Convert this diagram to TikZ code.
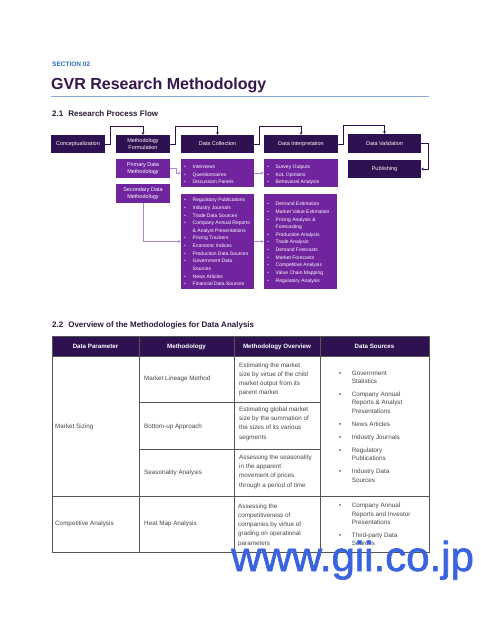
\documentclass[tikz,border=0pt]{standalone}
\usepackage{fontspec}
\setmainfont{Liberation Sans}
\newfontfamily\wmfont{Liberation Sans}[FakeBold=1.5]
\usetikzlibrary{arrows.meta}
\definecolor{gvrDark}{RGB}{46,17,80}
\definecolor{gvrPurple}{RGB}{112,36,158}
\definecolor{gvrLav}{RGB}{178,136,208}
\definecolor{gvrBlue}{RGB}{44,110,186}
\definecolor{gvrTitle}{RGB}{56,22,76}
\definecolor{gvrHead}{RGB}{42,26,56}
\definecolor{gvrRule}{RGB}{132,170,218}
\definecolor{gvrGrid}{RGB}{85,85,85}
\definecolor{gvrText}{RGB}{70,70,70}
\definecolor{gvrWeb}{RGB}{58,100,222}
\newcommand{\bl}{\makebox[8.5pt][l]{\textcolor{white!75!gvrPurple}{\textbullet}}}
\newcommand{\bk}{\hspace*{8.5pt}}
\newcommand{\boxlist}[1]{\begin{tabular}[t]{@{}l@{}}#1\end{tabular}}
\newcommand{\srclist}[1]{\begin{tabular}[t]{@{}l@{\hspace{10.5pt}}l@{}}#1\end{tabular}}

\begin{document}
\begin{tikzpicture}[x=1pt,y=-1pt,
  flowbox/.style={fill=gvrDark,text=white,font=\fontsize{5.5}{7.8}\selectfont,align=center,inner sep=0pt,minimum height=18pt},
  methbox/.style={flowbox,fill=gvrPurple,minimum height=19pt},
  listbox/.style={fill=gvrPurple,inner sep=0pt},
  listtext/.style={anchor=base west,inner sep=0pt,text=white,font=\fontsize{5}{7.65}\selectfont},
  flowline/.style={gvrDark,line width=0.9pt,-{Stealth[length=2.6pt,width=2.6pt]}},
  subline/.style={gvrLav,line width=0.9pt,-{Stealth[length=2.6pt,width=2.6pt]}},
  heading/.style={anchor=base west,inner sep=0pt,text=gvrHead,font=\fontsize{8}{10}\selectfont\bfseries},
  head/.style={anchor=base,inner sep=0pt,text=white,font=\fontsize{6.2}{7}\selectfont\bfseries},
  cell/.style={anchor=base west,inner sep=0pt,text=gvrText,font=\fontsize{6.3}{9.3}\selectfont},
  src/.style={cell,font=\fontsize{6.3}{8.4}\selectfont}]
\useasboundingbox (0,0) rectangle (480,621);
\fill[white] (0,0) rectangle (480,621);

\node[anchor=base west,inner sep=0pt,text=gvrBlue,font=\fontsize{6.5}{8}\selectfont\bfseries] (sec) at (52,66.7) {SECTION 02};
\node[anchor=base west,inner sep=0pt,text=gvrTitle,font=\fontsize{16}{19}\selectfont\bfseries] (title) at (51,89.5) {GVR Research Methodology};
\draw[gvrRule,line width=1.3pt] (51,96.5) -- (429,96.5);
\node[heading] (flowhead) at (52,116) {2.1\hspace{5pt}Research Process Flow};

% process flow
\node[flowbox,minimum width=54pt] (concept) at (78,144) {Conceptualization};
\node[flowbox,minimum width=54pt] (formul) at (143,144) {Methodology\\Formulation};
\node[flowbox,minimum width=73pt] (collect) at (217.5,144) {Data Collection};
\node[flowbox,minimum width=74pt] (interp) at (301,144) {Data Interpretation};
\node[flowbox,minimum width=73pt,minimum height=19pt] (valid) at (384.5,143.5) {Data Validation};
\node[flowbox,minimum width=73pt] (publish) at (384.5,169) {Publishing};
\node[methbox,minimum width=54pt] (primary) at (143,168.5) {Primary Data\\Methodology};
\node[methbox,minimum width=54pt] (secondary) at (143,193.5) {Secondary Data\\Methodology};
\node[listbox,minimum width=73pt,minimum height=28pt] (prilist) at (217.5,173) {};
\node[listbox,minimum width=74pt,minimum height=28pt] (surlist) at (301,173) {};
\node[listbox,minimum width=73pt,minimum height=95pt] (seclist) at (217.5,241.5) {};
\node[listbox,minimum width=73pt,minimum height=95pt] (anlist) at (300.5,241.5) {};

\node[listtext] (prilist-t) at (184,168.5) {\boxlist{\bl Interviews\\\bl Questionnaires\\\bl Discussion Panels}};
\node[listtext] (surlist-t) at (267,168.5) {\boxlist{\bl Survey Outputs\\\bl KoL Opinions\\\bl Behavioral Analysis}};
\node[listtext] (seclist-t) at (184,201.7) {\boxlist{\bl Regulatory Publications\\\bl Industry Journals\\\bl Trade Data Sources\\\bl Company Annual Reports\\\bk\& Analyst Presentations\\\bl Pricing Trackers\\\bl Economic Indices\\\bl Production Data Sources\\\bl Government Data\\\bk Sources\\\bl News Articles\\\bl Financial Data Sources}};
\node[listtext] (anlist-t) at (267,205.7) {\boxlist{\bl Demand Estimation\\\bl Market Value Estimation\\\bl Pricing Analysis \&\\\bk Forecasting\\\bl Production Analysis\\\bl Trade Analysis\\\bl Demand Forecasts\\\bl Market Forecasts\\\bl Competitive Analysis\\\bl Value Chain Mapping\\\bl Regulatory Analysis}};

\draw[flowline] (concept.east) -- ++(5.5,0) |- ([yshift=8pt]formul.north) -- (formul.north);
\draw[flowline] (formul.east) -- ++(5.5,0) |- ([yshift=8pt]collect.north) -- (collect.north);
\draw[flowline] (collect.east) -- ++(5.5,0) |- ([yshift=8pt]interp.north) -- (interp.north);
\draw[flowline] (interp.east) -- ++(5.5,0) |- ([yshift=8pt]valid.north) -- (valid.north);
\draw[flowline] (valid.east) -- ++(7,0) |- (publish.east);
\draw[subline] (primary.east) -- ++(6,0) |- (prilist.west);
\draw[subline] (prilist.east) -- (surlist.west);
\draw[subline] (secondary.south) |- (seclist.west);
\draw[subline] (seclist.east) -- (anlist.west);

% methodology table
\node[heading] (tabhead) at (52,327) {2.2\hspace{5pt}Overview of the Methodologies for Data Analysis};
\fill[gvrDark] (52,336) rectangle (429,356);
\begin{scope}[gvrGrid,line width=0.8pt]
\draw (52,336) rectangle (429,552);
\foreach \x in {139,234,320} \draw (\x,336) -- (\x,552);
\foreach \y in {356,496} \draw (52,\y) -- (429,\y);
\foreach \y in {402,449} \draw (139,\y) -- (320,\y);
\end{scope}
\node[head] (h-param) at (95.5,348) {Data Parameter};
\node[head] (h-meth) at (186.5,348) {Methodology};
\node[head] (h-over) at (277,348) {Methodology Overview};
\node[head] (h-src) at (374.5,348) {Data Sources};

\node[cell] (sizing) at (55,428) {Market Sizing};
\node[cell] (lineage) at (144,380) {Market Lineage Method};
\node[cell] (lineage-o) at (239,367) {\boxlist{Estimating the market\\size by virtue of the child\\market output from its\\parent market}};
\node[cell] (bottomup) at (144,428) {Bottom-up Approach};
\node[cell] (bottomup-o) at (239,411.3) {\boxlist{Estimating global market\\size by the summation of\\the sizes of its various\\segments}};
\node[cell] (season) at (144,474) {Seasonality Analysis};
\node[cell] (season-o) at (239,459.3) {\boxlist{Assessing the seasonality\\in the apparent\\movement of prices\\through a period of time}};
\node[src] (sizing-s) at (339,375) {\srclist{\textbullet & Government\\ & Statistics\\[4.6pt] \textbullet & Company Annual\\ & Reports \& Analyst\\ & Presentations\\[4.6pt] \textbullet & News Articles\\[4.6pt] \textbullet & Industry Journals\\[4.6pt] \textbullet & Regulatory\\ & Publications\\[4.6pt] \textbullet & Industry Data\\ & Sources}};

\node[cell] (compet) at (55,525) {Competitive Analysis};
\node[cell] (heatmap) at (144,525) {Heat Map Analysis};
\node[cell] (heatmap-o) at (238,508) {\boxlist{Assessing the\\competitiveness of\\companies by virtue of\\grading on operational\\parameters}};
\node[src] (compet-s) at (339,507.7) {\srclist{\textbullet & Company Annual\\ & Reports and Investor\\ & Presentations\\[4.6pt] \textbullet & Third-party Data\\ & Sources}};

\node[anchor=base west,inner sep=0pt,text=gvrWeb,font=\wmfont\fontsize{42}{50}\selectfont] (web) at (231,571) {www.gii.co.jp};
\end{tikzpicture}
\end{document}
